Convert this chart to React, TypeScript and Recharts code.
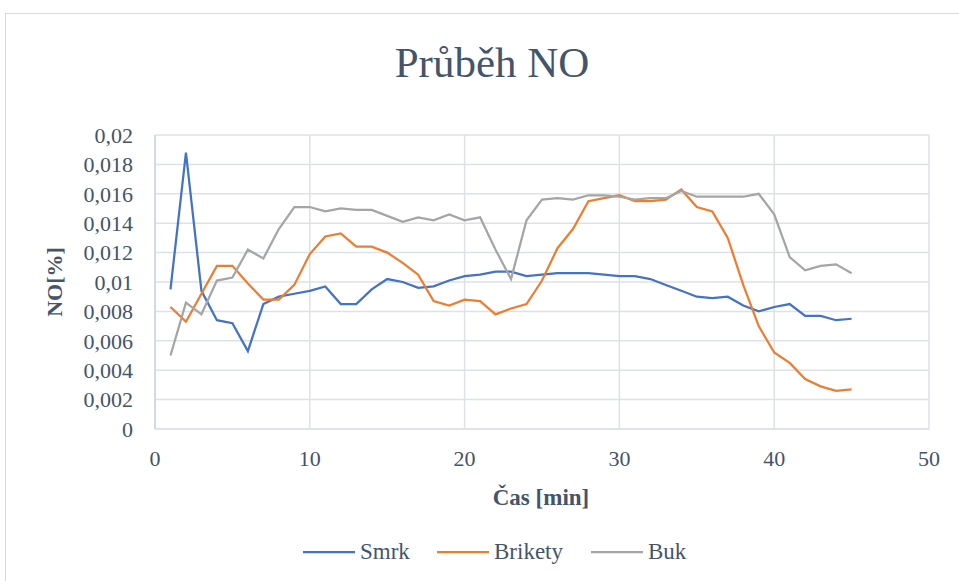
import React from 'react';
import { LineChart, Line, XAxis, YAxis, CartesianGrid } from 'recharts';

const minutes = [1,2,3,4,5,6,7,8,9,10,11,12,13,14,15,16,17,18,19,20,21,22,23,24,25,26,27,28,29,30,31,32,33,34,35,36,37,38,39,40,41,42,43,44,45];

const smrk = [0.0095,0.0188,0.0094,0.0074,0.0072,0.0053,0.0085,0.0090,0.0092,0.0094,0.0097,0.0085,0.0085,0.0095,0.0102,0.0100,0.0096,0.0097,0.0101,0.0104,0.0105,0.0107,0.0107,0.0104,0.0105,0.0106,0.0106,0.0106,0.0105,0.0104,0.0104,0.0102,0.0098,0.0094,0.0090,0.0089,0.0090,0.0084,0.0080,0.0083,0.0085,0.0077,0.0077,0.0074,0.0075];

const brikety = [0.0083,0.0073,0.0092,0.0111,0.0111,0.0099,0.0088,0.0088,0.0098,0.0119,0.0131,0.0133,0.0124,0.0124,0.0120,0.0113,0.0105,0.0087,0.0084,0.0088,0.0087,0.0078,0.0082,0.0085,0.0101,0.0123,0.0136,0.0155,0.0157,0.0159,0.0155,0.0155,0.0156,0.0163,0.0151,0.0148,0.0130,0.0098,0.0070,0.0052,0.0045,0.0034,0.0029,0.0026,0.0027];

const buk = [0.0050,0.0086,0.0078,0.0101,0.0103,0.0122,0.0116,0.0136,0.0151,0.0151,0.0148,0.0150,0.0149,0.0149,0.0145,0.0141,0.0144,0.0142,0.0146,0.0142,0.0144,0.0122,0.0102,0.0142,0.0156,0.0157,0.0156,0.0159,0.0159,0.0158,0.0156,0.0157,0.0157,0.0162,0.0158,0.0158,0.0158,0.0158,0.0160,0.0146,0.0117,0.0108,0.0111,0.0112,0.0106];

const xTicks = [0, 10, 20, 30, 40, 50];
const yTicks = [0, 0.002, 0.004, 0.006, 0.008, 0.01, 0.012, 0.014, 0.016, 0.018, 0.02];

const seriesNames = ['Smrk', 'Brikety', 'Buk'];
const seriesColors = ['#4472c4', '#ed7d31', '#a5a5a5'];
const seriesKeys = ['smrk', 'brikety', 'buk'];

const titleText = 'Průběh NO';
const xTitle = 'Čas [min]';
const yTitle = 'NO[%]';

const data = minutes.map((m, i) => ({ t: m, smrk: smrk[i], brikety: brikety[i], buk: buk[i] }));

const FONT = '"Liberation Serif", "Times New Roman", serif';
const TEXT = '#44546a';
const GRID = '#dde1e8';

const fmtY = (v: number) => String(Number(v.toFixed(4))).replace('.', ',');

const legendPos = [303, 437, 591];

export default function App() {
  return (
    <div style={{ position: 'absolute', left: 0, top: 0, width: 959, height: 581, overflow: 'hidden', background: '#fff' }}>
      <div style={{ position: 'absolute', left: 5, top: 13, width: 1000, height: 700, border: '1px solid #d9d9d9', boxSizing: 'border-box' }} />
      <div style={{ position: 'absolute', left: 0, top: 0 }}>
        <LineChart width={959} height={581} data={data} margin={{ top: 135, right: 30, bottom: 122, left: 55 }}>
          <CartesianGrid stroke={GRID} strokeWidth={1.5} />
          <XAxis
            dataKey="t"
            type="number"
            domain={[0, 50]}
            ticks={xTicks}
            height={30}
            tickLine={false}
            axisLine={{ stroke: GRID, strokeWidth: 1.5 }}
            tickMargin={15}
            tick={{ fill: TEXT, fontSize: 22, fontFamily: FONT }}
            interval={0}
          />
          <YAxis
            type="number"
            domain={[0, 0.02]}
            ticks={yTicks}
            width={100}
            tickLine={false}
            axisLine={{ stroke: '#cdd4df', strokeWidth: 1.5 }}
            tickMargin={16}
            tickFormatter={fmtY}
            tick={{ fill: TEXT, fontSize: 22, fontFamily: FONT }}
            interval={0}
          />
          {seriesKeys.map((k, i) => (
            <Line
              key={k}
              dataKey={k}
              name={seriesNames[i]}
              stroke={seriesColors[i]}
              strokeWidth={2.25}
              dot={false}
              activeDot={false}
              isAnimationActive={false}
              type="linear"
            />
          ))}
        </LineChart>
      </div>
      <svg width={959} height={581} style={{ position: 'absolute', left: 0, top: 0, pointerEvents: 'none' }}>
        <text x={492} y={77} textAnchor="middle" fontFamily={FONT} fontSize={43} fill={TEXT}>{titleText}</text>
        <text x={541} y={505} textAnchor="middle" fontFamily={FONT} fontSize={23} fontWeight="bold" fill={TEXT}>{xTitle}</text>
        <text x={62} y={282} textAnchor="middle" fontFamily={FONT} fontSize={22} fontWeight="bold" fill={TEXT} transform="rotate(-90 62 282)">{yTitle}</text>
        {seriesNames.map((n, i) => (
          <g key={n}>
            <line x1={legendPos[i]} x2={legendPos[i] + 52} y1={552} y2={552} stroke={seriesColors[i]} strokeWidth={2.25} />
            <text x={legendPos[i] + 57} y={559} fontFamily={FONT} fontSize={23} fill={TEXT}>{n}</text>
          </g>
        ))}
      </svg>
    </div>
  );
}
